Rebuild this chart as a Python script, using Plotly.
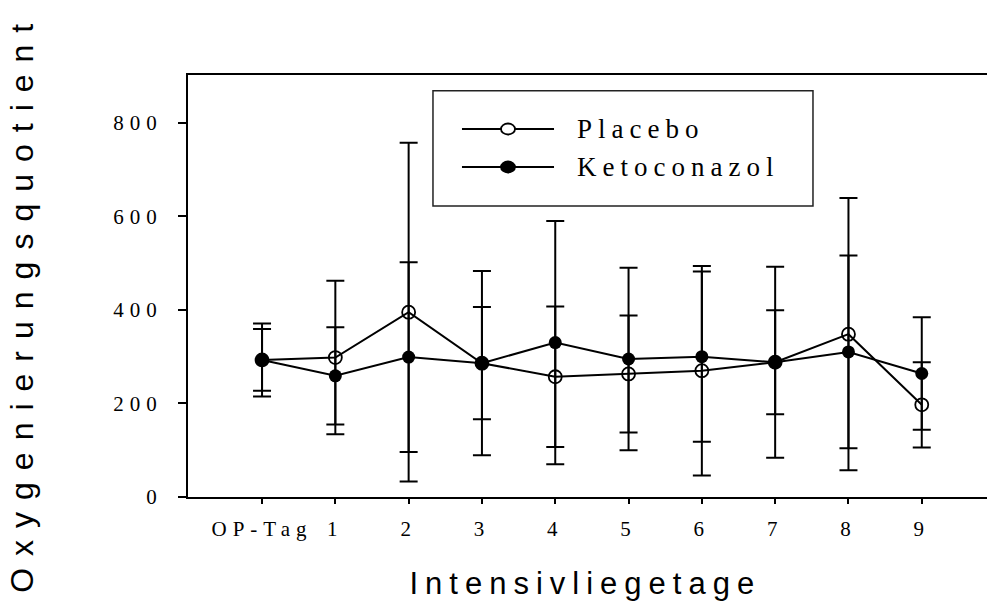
import plotly.graph_objects as go

# ---- data ----
days = [0, 1, 2, 3, 4, 5, 6, 7, 8, 9]
day_labels = ["OP-Tag", "1", "2", "3", "4", "5", "6", "7", "8", "9"]
placebo_mean = [293, 298, 395, 286, 257, 263, 270, 288, 348, 197]
placebo_sd = [78, 164, 362, 197, 150, 125, 224, 204, 291, 91]
keto_mean = [293, 259, 299, 286, 330, 295, 300, 288, 310, 264]
keto_sd = [66, 104, 203, 120, 260, 195, 182, 111, 206, 120]
y_ticks = [0, 200, 400, 600, 800]
series_names = ["Placebo", "Ketoconazol"]

fig = go.Figure()

err_style = dict(type="data", symmetric=True, color="black", thickness=2, width=9)

fig.add_trace(go.Scatter(
    x=days, y=placebo_mean, name=series_names[0], mode="lines+markers",
    line=dict(color="black", width=2),
    marker=dict(symbol="circle-open", size=13, color="black", line=dict(width=1.8)),
    error_y=dict(array=placebo_sd, **err_style),
    showlegend=False,
))
fig.add_trace(go.Scatter(
    x=days, y=keto_mean, name=series_names[1], mode="lines+markers",
    line=dict(color="black", width=2),
    marker=dict(symbol="circle", size=13, color="black"),
    error_y=dict(array=keto_sd, **err_style),
    showlegend=False,
))

# ---- custom legend box ----
shapes = [
    dict(type="rect", xref="paper", yref="paper", x0=0.3066, x1=0.7822, y0=0.6896, y1=0.9628,
         line=dict(color="#222", width=1.5), fillcolor="rgba(0,0,0,0)"),
]
annotations = []
rows = [(0.8720, "circle-open"), (0.7820, "circle")]
for (ry, sym), nm in zip(rows, series_names):
    shapes.append(dict(type="line", xref="paper", yref="paper", x0=0.3429, x1=0.4581, y0=ry, y1=ry,
                       line=dict(color="black", width=2)))
    shapes.append(dict(type="circle", xref="paper", yref="paper",
                       xsizemode="pixel", ysizemode="pixel",
                       xanchor=0.4005, yanchor=ry, x0=-7, x1=7, y0=-5.5, y1=5.5,
                       line=dict(color="black", width=1.8),
                       fillcolor="white" if sym == "circle-open" else "black"))
    annotations.append(dict(xref="paper", yref="paper", x=0.4845, y=ry, text=nm, showarrow=False,
                            xanchor="left", yanchor="middle", align="left",
                            font=dict(family="Liberation Serif", size=27, color="black")))

# axis titles
annotations.append(dict(xref="paper", yref="paper", x=0.497, y=-0.204, text="Intensivliegetage",
                        showarrow=False, xanchor="center", yanchor="middle",
                        font=dict(family="Liberation Sans", size=31, color="black")))
annotations.append(dict(xref="paper", yref="paper", x=-0.208, y=0.462, text="Oxygenierungsquotient",
                        showarrow=False, textangle=-90, xanchor="center", yanchor="middle",
                        font=dict(family="Liberation Sans", size=32, color="black")))

fig.update_layout(
    width=987, height=607,
    margin=dict(l=188, r=0, t=75, b=110),
    paper_bgcolor="white", plot_bgcolor="white",
    shapes=shapes, annotations=annotations,
    showlegend=False,
    xaxis=dict(
        range=[-1.01, 9.89], tickmode="array", tickvals=days, ticktext=day_labels,
        showline=True, linecolor="black", linewidth=2, mirror=True,
        ticks="outside", ticklen=5, tickwidth=2, tickcolor="black",
        showgrid=False, zeroline=False, ticklabelstandoff=7,
        tickfont=dict(family="Liberation Serif", size=21, color="black"),
    ),
    yaxis=dict(
        range=[0, 902], tickmode="array", tickvals=y_ticks,
        showline=True, linecolor="black", linewidth=2, mirror=False,
        ticks="outside", ticklen=8, tickwidth=2, tickcolor="black",
        showgrid=False, zeroline=False, ticklabelstandoff=11,
        tickfont=dict(family="Liberation Serif", size=21, color="black"),
    ),
)

post = """
var s = document.createElement('style');
s.innerHTML = '.xtick text, .ytick text {letter-spacing: 6px;} ' +
              '.annotation-text {letter-spacing: 6px;}';
document.head.appendChild(s);
var anns = document.querySelectorAll('.annotation-text');
anns.forEach(function(t){
  var txt = t.textContent;
  if (txt === 'Oxygenierungsquotient') { t.style.letterSpacing = '12px'; }
  if (txt === 'Intensivliegetage') { t.style.letterSpacing = '7px'; }
});
"""
fig.write_html("out.html", post_script=post)
